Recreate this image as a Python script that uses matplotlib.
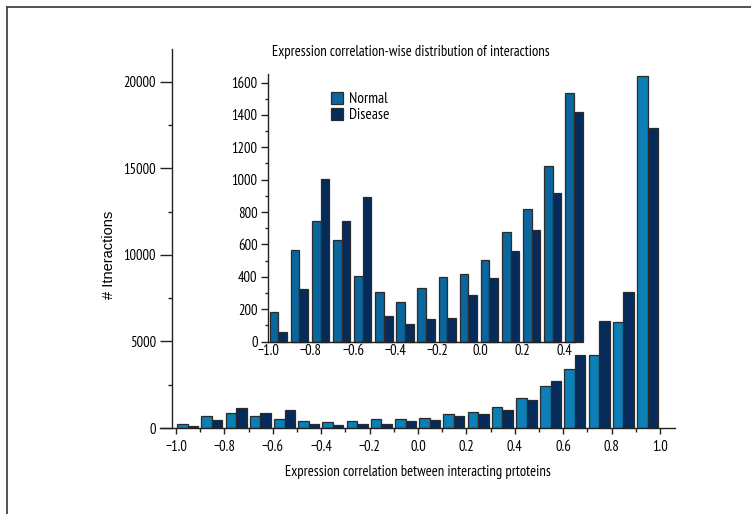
# Expression correlation-wise distribution of interactions (normal vs disease)

import numpy as np
import matplotlib
matplotlib.use('Agg')
import matplotlib.pyplot as plt
from matplotlib.ticker import MultipleLocator
from matplotlib.patches import Patch
from matplotlib.lines import Line2D

plt.rcParams['font.family'] = ['PT Sans Narrow', 'DejaVu Sans']

# bin starts of the correlation histogram (width 0.1)
bin_starts = [-1.0, -0.9, -0.8, -0.7, -0.6, -0.5, -0.4, -0.3, -0.2, -0.1,
              0.0, 0.1, 0.2, 0.3, 0.4, 0.5, 0.6, 0.7, 0.8, 0.9]

# main panel: all bins
main_normal = [234, 680, 840, 720, 506, 409, 331, 409, 506, 526,
               604, 799, 935, 1208, 1715, 2436, 3392, 4200, 6110, 20350]
main_disease = [136, 450, 1150, 877, 1033, 234, 195, 214, 234, 390,
                487, 682, 799, 1052, 1598, 2690, 4190, 6170, 7840, 17320]

# inset: zoom on bins -1.0 .. 0.5
inset_normal = [183, 567, 742, 625, 404, 308, 242, 331, 396, 415,
                504, 676, 821, 1083, 1534]
inset_disease = [58, 323, 1005, 746, 890, 156, 108, 137, 146, 290,
                 390, 559, 686, 915, 1417]

main_blue = '#0b7fb6'
inset_blue = '#0a669c'
navy = '#062b5b'
edge = '#2b2b2b'

fig = plt.figure(figsize=(7.51, 5.14), dpi=100)

# frame lines (top and left only visible in the picture)
fig.add_artist(Line2D([7/751, 7/751], [0, 1 - 7/514], color='#444444', lw=1.3))
fig.add_artist(Line2D([7/751, 1], [1 - 7/514, 1 - 7/514], color='#444444', lw=1.3))

# ---- main axes ----
ax = fig.add_axes([160/751, 86/514, 515/751, 379/514])
x = np.array(bin_starts)
ax.bar(x + 0.005, main_normal, width=0.0435, align='edge', color=main_blue,
       edgecolor=edge, linewidth=0.9)
ax.bar(x + 0.0485, main_disease, width=0.0435, align='edge', color=navy,
       edgecolor=edge, linewidth=0.9)
ax.set_xlim(-1.066, 1.062)
ax.set_ylim(0, 21900)
ax.spines['top'].set_visible(False)
ax.spines['right'].set_visible(False)
ax.spines['left'].set_position(('data', -1.0145))
for s in ('left', 'bottom'):
    ax.spines[s].set_color('#222222')
    ax.spines[s].set_linewidth(1.0)
ax.xaxis.set_minor_locator(MultipleLocator(0.1))
ax.yaxis.set_major_locator(MultipleLocator(5000))
ax.yaxis.set_minor_locator(MultipleLocator(2500))
ax.set_xticks(np.arange(-1.0, 1.01, 0.2))
ax.set_xticklabels(['\u22121.0', '\u22120.8', '\u22120.6', '\u22120.4', '\u22120.2',
                    '0.0', '0.2', '0.4', '0.6', '0.8', '1.0'])
ax.tick_params(axis='y', which='major', length=9, width=1, labelsize=10.5, pad=3, color='#222222')
ax.tick_params(axis='y', which='minor', length=3.2, width=1, color='#222222')
ax.tick_params(axis='x', which='major', length=4.5, width=1, labelsize=10.5, pad=4, color='#222222')
ax.tick_params(axis='x', which='minor', length=3, width=1, color='#222222')
ax.set_xlabel('Expression correlation between interacting prtoteins', fontsize=10.5, labelpad=8)
ax.set_ylabel('# Itneractions', fontsize=10.5, family='Liberation Sans')
ax.yaxis.set_label_coords(-0.085, 0.456)

# ---- inset ----
ins = fig.add_axes([267.5/751, 172.5/514, 318/751, 267.2/514])
ins.patch.set_alpha(0)
xi = np.array(bin_starts[:len(inset_normal)])
ins.bar(xi + 0.004, inset_normal, width=0.041, align='edge', color=inset_blue,
        edgecolor=edge, linewidth=0.9, clip_on=False)
ins.bar(xi + 0.045, inset_disease, width=0.041, align='edge', color=navy,
        edgecolor=edge, linewidth=0.9, clip_on=False)
ins.set_xlim(-1.006, 0.5)
ins.set_ylim(0, 1651)
ins.spines['top'].set_visible(False)
ins.spines['right'].set_visible(False)
ins.spines['bottom'].set_bounds(-1.006, 0.45)
for s in ('left', 'bottom'):
    ins.spines[s].set_color('#222222')
    ins.spines[s].set_linewidth(1.0)
ins.set_xticks(np.arange(-1.0, 0.41, 0.2))
ins.set_xticklabels(['\u22121.0', '\u22120.8', '\u22120.6', '\u22120.4', '\u22120.2',
                     '0.0', '0.2', '0.4'])
ins.yaxis.set_major_locator(MultipleLocator(200))
ins.yaxis.set_minor_locator(MultipleLocator(100))
ins.tick_params(axis='x', length=0, labelsize=10.5, pad=2)
ins.tick_params(axis='y', which='major', length=5.2, width=1, labelsize=10.5, pad=2, color='#222222')
ins.tick_params(axis='y', which='minor', length=2, width=1, color='#222222')

handles = [Patch(facecolor=inset_blue, edgecolor=edge, linewidth=0.9),
           Patch(facecolor=navy, edgecolor=edge, linewidth=0.9)]
ins.legend(handles, ['Normal', 'Disease'], loc='upper left',
           bbox_to_anchor=(0.2, 0.935), frameon=False, fontsize=11,
           handlelength=0.8, handleheight=0.85, handletextpad=0.35,
           labelspacing=0.1, borderpad=0, borderaxespad=0)

fig.text(411/751, 1 - 52/514, 'Expression correlation-wise distribution of interactions',
         ha='center', va='center', fontsize=10.5)

fig.savefig('out.png', dpi=100)
